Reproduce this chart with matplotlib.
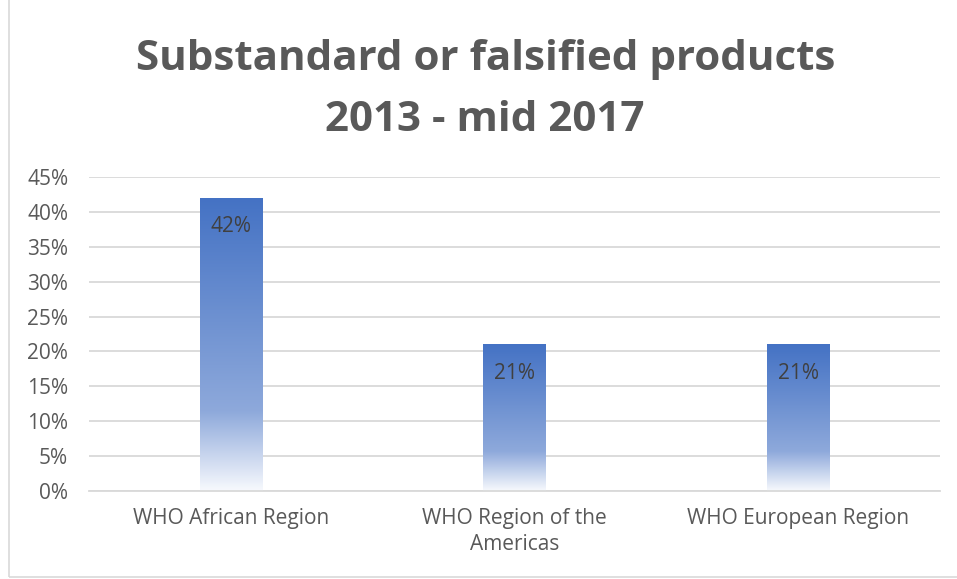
import matplotlib.pyplot as plt
import numpy as np
from matplotlib.colors import LinearSegmentedColormap
from matplotlib.patches import Rectangle

regions = ['WHO African Region', 'WHO Region of the\nAmericas', 'WHO European Region']
shares = [0.42, 0.21, 0.21]
labels = ['42%', '21%', '21%']
yticks = np.arange(0, 0.46, 0.05)

plt.rcParams['font.family'] = ['Open Sans', 'DejaVu Sans']

fig = plt.figure(figsize=(9.57, 5.79), dpi=100)
fig.patches.append(Rectangle((9 / 957, 0.004), 1, 1.2, transform=fig.transFigure,
                             fill=False, edgecolor='#D9D9D9', lw=1.2))
ax = fig.add_axes([89 / 957, 88 / 579, 851 / 957, 314 / 579])

# gradient from blue at top to white at bottom
cmap = LinearSegmentedColormap.from_list('grad', [(0, '#F7F9FD'), (0.27, '#8EA9DB'),
                                                  (1, '#4472C4')])
grad = np.linspace(0, 1, 256).reshape(-1, 1)
width = 0.22
x = np.arange(len(regions))
bars = ax.bar(x, shares, width, color='none', zorder=2)
for b in bars:
    x0, y0 = b.get_x(), b.get_y()
    im = ax.imshow(grad, cmap=cmap, origin='lower', aspect='auto', zorder=2,
                   extent=[x0, x0 + b.get_width(), y0, y0 + b.get_height()])
    im.set_clip_path(b)

for xi, v, t in zip(x, shares, labels):
    ax.text(xi, v - 0.041, t, ha='center', va='center', fontsize=15, color='#404040', zorder=3)

ax.set_xlim(-0.5, 2.5)
ax.set_ylim(0, 0.45)
ax.set_yticks(yticks)
ax.set_yticklabels(['{:.0f}%'.format(t * 100) for t in yticks])
ax.set_xticks(x)
ax.set_xticklabels(regions, linespacing=1.35)
ax.grid(axis='y', color='#D9D9D9', lw=1.3, zorder=0)
ax.set_axisbelow(True)
for s in ['top', 'right', 'left']:
    ax.spines[s].set_visible(False)
ax.spines['bottom'].set_color('#D9D9D9')
ax.spines['bottom'].set_linewidth(1.3)
ax.tick_params(axis='both', length=0, labelsize=15, labelcolor='#595959')
ax.tick_params(axis='y', pad=15)
ax.tick_params(axis='x', pad=12)

fig.text(0.507, 1 - 90 / 579, 'Substandard or falsified products\n2013 - mid 2017', ha='center',
         va='center', fontsize=30.3, fontweight='bold', color='#595959', linespacing=1.62)

fig.savefig('out.png', dpi=100)
